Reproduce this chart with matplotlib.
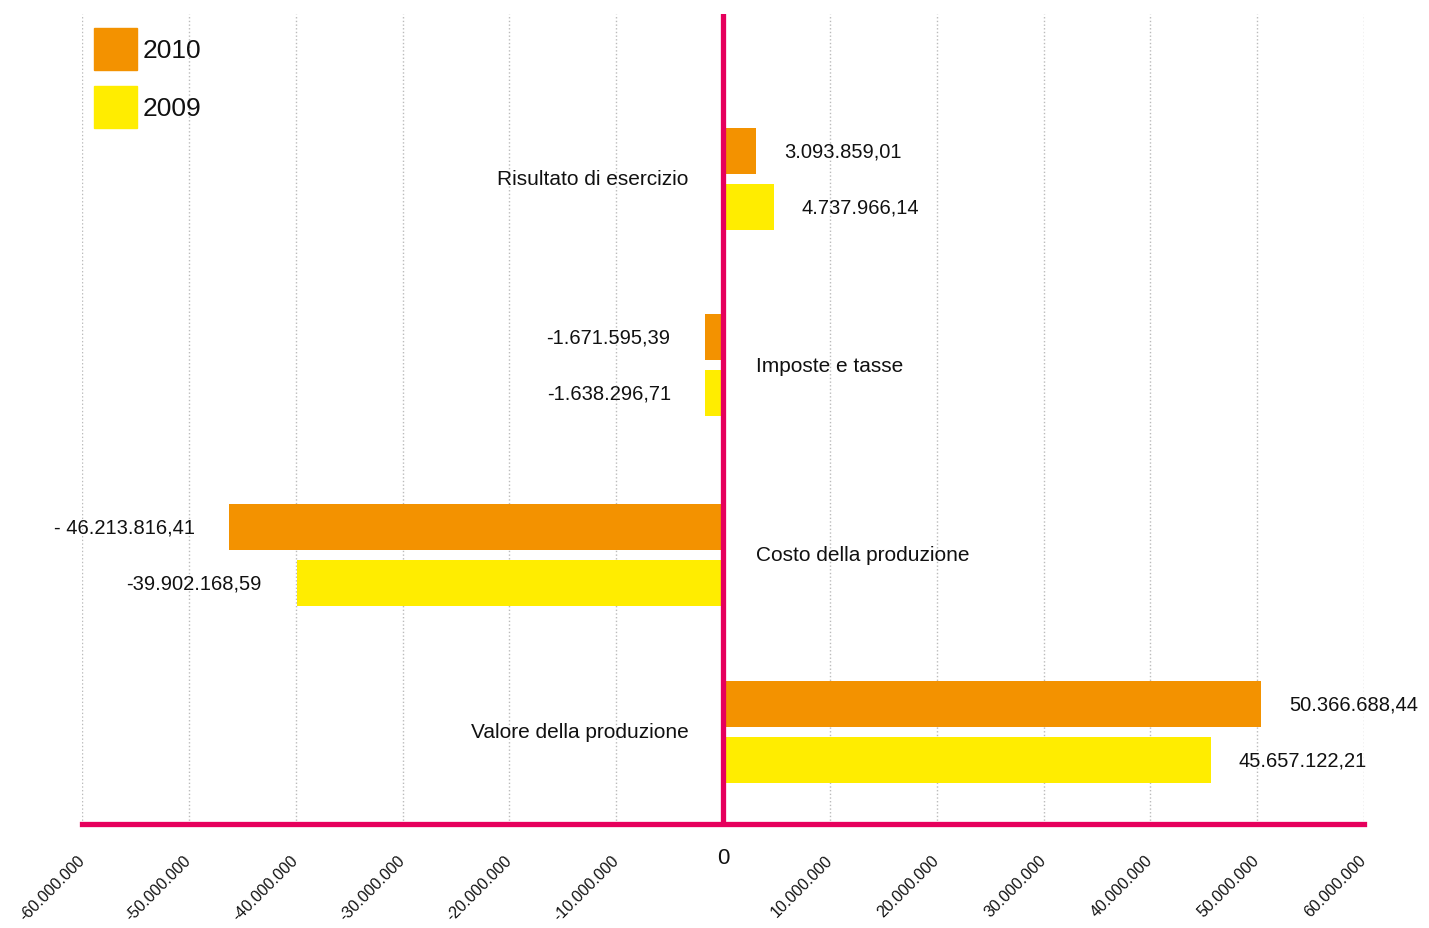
import matplotlib
matplotlib.use("Agg")
import matplotlib.pyplot as plt
from matplotlib.patches import Patch
import numpy as np

categories = ["Valore della produzione", "Costo della produzione", "Imposte e tasse", "Risultato di esercizio"]
values_2010 = [50366688.44, -46213816.41, -1671595.39, 3093859.01]
values_2009 = [45657122.21, -39902168.59, -1638296.71, 4737966.14]
labels_2010 = ["50.366.688,44", "- 46.213.816,41", "-1.671.595,39", "3.093.859,01"]
labels_2009 = ["45.657.122,21", "-39.902.168,59", "-1.638.296,71", "4.737.966,14"]
series_names = ["2010", "2009"]
ticks = list(range(-60000000, 60000001, 10000000))
tick_labels = ["-60.000.000", "-50.000.000", "-40.000.000", "-30.000.000", "-20.000.000",
               "-10.000.000", "0", "10.000.000", "20.000.000", "30.000.000", "40.000.000",
               "50.000.000", "60.000.000"]

ORANGE = "#F39200"
YELLOW = "#FFED00"
MAGENTA = "#E6005C"
TXT = "#111111"

plt.rcParams['font.family'] = ['Liberation Sans', 'DejaVu Sans']

fig = plt.figure(figsize=(14.29, 9.29), dpi=100)
ax = fig.add_axes([82/1429, 1-825/929, (1364-82)/1429, (825-15)/929])

# vertical layout positions of the category groups
y = np.array([0.0, 0.96, 1.99, 3.0])
h = 0.25
off = 0.152
ax.barh(y + off, values_2010, height=h, color=ORANGE, zorder=3)
ax.barh(y - off, values_2009, height=h, color=YELLOW, zorder=3)

ax.set_xlim(-60000000, 60000000)
ax.set_ylim(-0.5, 3.895)

def put_value(v, yi, lab):
    dx = 20 if v > 0 else -25
    ax.annotate(lab, (v, yi), xytext=(dx, 0), textcoords='offset points',
                ha='left' if v > 0 else 'right', va='center', fontsize=14.5, color=TXT)

for yi, v, lab in zip(y + off, values_2010, labels_2010):
    put_value(v, yi, lab)
for yi, v, lab in zip(y - off, values_2009, labels_2009):
    put_value(v, yi, lab)

for yi, cat, v in zip(y, categories, values_2010):
    if v > 0:
        ax.annotate(cat, (0, yi), xytext=(-25, 0), textcoords='offset points',
                    ha='right', va='center', fontsize=15, color=TXT)
    else:
        ax.annotate(cat, (0, yi), xytext=(24, 0), textcoords='offset points',
                    ha='left', va='center', fontsize=15, color=TXT)

ax.set_xticks(ticks)
ax.set_xticklabels(tick_labels)
for t, lab in zip(ax.get_xticklabels(), tick_labels):
    if lab == "0":
        t.set_rotation(0)
        t.set_ha('center')
        t.set_va('center')
        t.set_fontsize(16)
    else:
        t.set_rotation(45)
        t.set_ha('right')
        t.set_va('center')
        t.set_rotation_mode('anchor')
        t.set_fontsize(11.5)
ax.tick_params(axis='x', length=0, pad=24, colors=TXT)
ax.set_yticks([])
ax.grid(axis='x', color='#bbbbbb', linestyle=':', linewidth=1, zorder=0)

for s in ['top', 'right', 'left']:
    ax.spines[s].set_visible(False)
ax.spines['bottom'].set_color(MAGENTA)
ax.spines['bottom'].set_linewidth(3.8)
ax.axvline(0, color=MAGENTA, linewidth=3.8, zorder=4)

handles = [Patch(color=ORANGE), Patch(color=YELLOW)]
leg = ax.legend(handles, series_names, loc='upper left', bbox_to_anchor=(94/1429, 1-29/929),
                bbox_transform=fig.transFigure, frameon=False, fontsize=19,
                handlelength=1.63, handleheight=2.07, handletextpad=0.22, labelspacing=0.61,
                borderaxespad=0, borderpad=0)
for t in leg.get_texts():
    t.set_color(TXT)

fig.savefig("out.png", dpi=100)
